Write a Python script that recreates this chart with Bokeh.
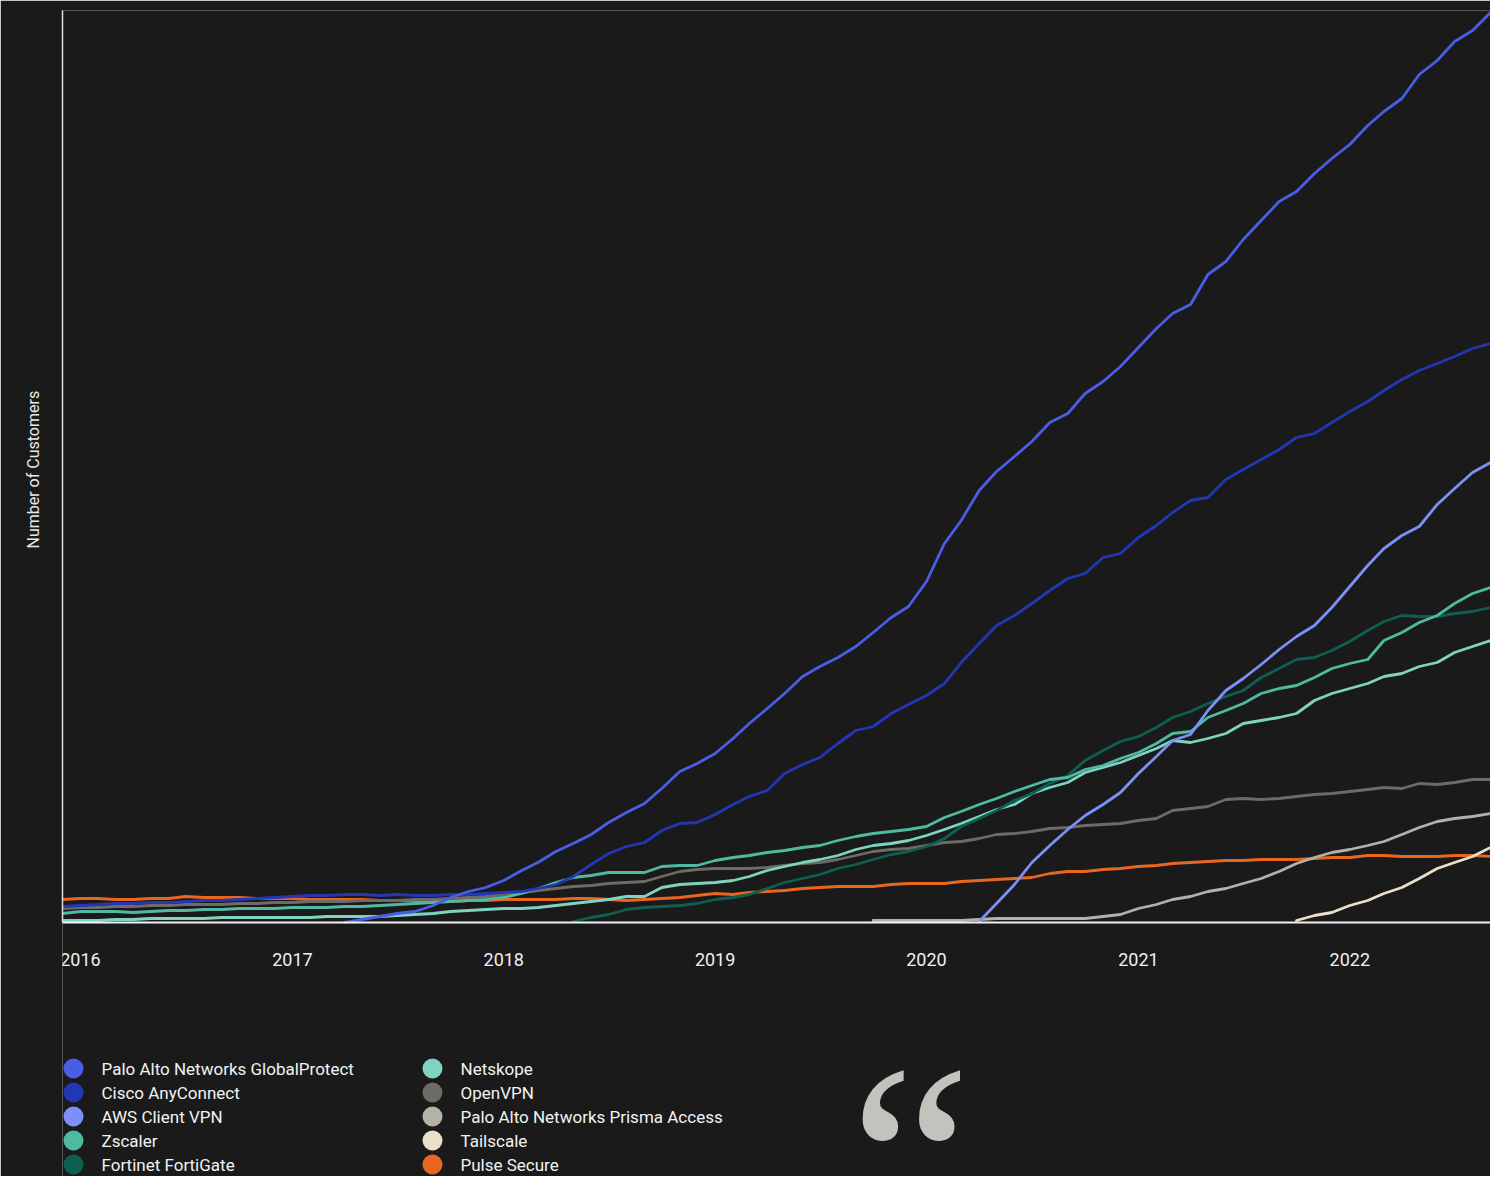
import numpy as np
import pandas as pd
from bokeh.plotting import figure
from bokeh.models import Range1d, FixedTicker, DatetimeTickFormatter, Label, Title
from bokeh.core.properties import value
from bokeh.embed import file_html
from bokeh.resources import INLINE

N = np.nan

# ---------------- data (monthly, Dec 2015 .. Sep 2022) ----------------
months = pd.date_range("2015-12-01", periods=82, freq="MS")
years = ["2016", "2017", "2018", "2019", "2020", "2021", "2022"]

names = ["Palo Alto Networks GlobalProtect", "Cisco AnyConnect", "AWS Client VPN",
         "Zscaler", "Fortinet FortiGate", "Netskope", "OpenVPN",
         "Palo Alto Networks Prisma Access", "Tailscale", "Pulse Secure"]
colors = ["#4a5de6", "#2337b5", "#7d90f7", "#4fb9a1", "#0d5f52",
          "#7fd4c1", "#6e6a65", "#b4b1a9", "#ebdfca", "#e9661f"]

globalprotect = [N] * 16 + [
    0, 3, 6, 9, 11, 17, 25, 31, 35, 42, 52, 60, 71, 79, 88, 100, 110, 119, 134, 151,
    159, 169, 184, 199, 214, 229, 246, 256, 265, 276, 290, 305, 316,
    341, 379, 402, 432, 451, 466, 481, 500, 509, 529, 541, 556, 575, 594, 609, 618,
    648, 661, 683, 702, 721, 731, 749, 764, 778, 797, 811, 824, 848, 862, 881, 892, 910]
cisco = [16, 17, 18, 19, 19, 20, 20, 21, 22, 22, 23, 24, 25, 26, 27, 27, 28, 28, 27, 28,
         27, 27, 28, 28, 29, 30, 31, 34, 38, 46, 58, 69, 76, 80, 92, 99, 100, 108, 118, 126,
         132, 149, 158, 165, 179, 192, 196, 209, 218, 227, 239, 260, 279, 297, 307, 319, 332, 344, 349, 365,
         369, 385, 397, 410, 422, 425, 443, 453, 463, 473, 485, 489, 500, 511, 521, 532, 543, 552, 559, 566,
         574, 579]
aws = [N] * 52 + [1, 19, 38, 60, 77, 93, 107, 118, 130, 149, 166, 182, 188, 212, 232, 244, 258, 273,
                  286, 297, 315, 336, 357, 374, 387, 396, 418, 434, 450, 460]
zscaler = [9, 11, 11, 11, 10, 11, 12, 12, 13, 13, 14, 14, 14, 15, 15, 15, 16, 16, 17, 18,
           19, 20, 21, 22, 23, 25, 29, 34, 40, 45, 47, 50, 50, 50, 56, 57, 57, 62, 65, 67,
           70, 72, 75, 77, 82, 86, 89, 91, 93, 96, 105, 111, 118, 124, 131, 137, 143, 145, 153, 157,
           164, 170, 179, 189, 191, 205, 212, 219, 229, 234, 237, 245, 254, 259, 263, 282, 290, 300, 307, 319,
           329, 335]
fortinet = [N] * 29 + [1, 5, 8, 13, 15, 16, 17, 19, 23, 25, 28,
                       34, 40, 44, 48, 54, 58, 63, 68, 71, 76, 84, 96, 104, 112, 122, 129, 139, 147, 162, 172,
                       181, 186, 195, 205, 211, 219, 226, 232, 245, 254, 263, 265, 272, 281, 292, 301, 307, 306,
                       306, 309, 311, 315]
netskope = [2, 2, 2, 3, 3, 4, 4, 4, 4, 5, 5, 5, 5, 5, 5, 6, 6, 6, 6, 7,
            8, 9, 11, 12, 13, 14, 14, 15, 17, 19, 21, 23, 26, 26, 35, 38, 39, 40, 42, 46,
            52, 56, 60, 63, 67, 73, 77, 79, 82, 87, 93, 99, 106, 113, 118, 129, 135, 140, 150, 155,
            160, 167, 174, 182, 180, 184, 189, 199, 202, 205, 209, 222, 229, 234, 239, 246, 249, 256, 260, 270,
            276, 282]
openvpn = [14, 15, 15, 16, 16, 17, 17, 18, 18, 18, 19, 19, 20, 20, 21, 21, 21, 22, 22, 22,
           23, 23, 24, 25, 26, 28, 30, 32, 34, 36, 37, 39, 40, 41, 46, 51, 53, 54, 54, 54,
           55, 57, 59, 60, 63, 67, 71, 73, 74, 77, 80, 81, 84, 88, 89, 91, 94, 95, 97, 98,
           99, 102, 104, 112, 114, 116, 123, 124, 123, 124, 126, 128, 129, 131, 133, 135, 134, 139, 138, 140,
           143, 143]
prisma = [N] * 46 + [2, 2, 2, 2, 2, 2, 3, 4, 4, 4, 4, 4, 4, 6, 8, 14, 18, 23, 26, 31,
                     34, 39, 44, 51, 59, 65, 70, 73, 77, 81, 88, 95, 101, 104, 106, 109]
tailscale = [N] * 70 + [2, 7, 10, 17, 22, 29, 35, 44, 54, 60, 66, 75]
pulse = [23, 24, 24, 23, 23, 24, 24, 26, 25, 25, 25, 24, 24, 24, 23, 23, 23, 23, 22, 22,
         22, 21, 21, 22, 22, 23, 23, 23, 23, 24, 24, 23, 22, 23, 24, 25, 27, 29, 28, 30,
         31, 32, 34, 35, 36, 36, 36, 38, 39, 39, 39, 41, 42, 43, 44, 45, 49, 51, 51, 53,
         54, 56, 57, 59, 60, 61, 62, 62, 63, 63, 63, 64, 65, 65, 67, 67, 66, 66, 66, 67,
         67, 66]

series = [globalprotect, cisco, aws, zscaler, fortinet, netskope, openvpn, prisma, tailscale, pulse]
y_max = 912          # top of the value axis
y_floor = -254       # room below the chart for the legend and the quote

BG = "#1a1a1a"
FONT = "Roboto"
W, H = 1490, 1176
LEFT, TOP = 62, 10
FW, FH = W - LEFT, H - TOP   # frame size in px

p = figure(width=W, height=H, x_axis_type="datetime",
           output_backend="svg", toolbar_location=None,
           x_range=Range1d(months[0], months[-1]), y_range=Range1d(y_floor, y_max),
           min_border_left=LEFT, min_border_right=0, min_border_top=TOP, min_border_bottom=0)
p.background_fill_color = BG
p.border_fill_color = BG
p.outline_line_color = None
p.grid.visible = False

# pixel ranges for the legend block placed under the chart
p.extra_x_ranges = {"px": Range1d(0, FW)}
p.extra_y_ranges = {"px": Range1d(FH, 0)}

for vals, col in reversed(list(zip(series, colors))):
    p.line(months, np.array(vals, dtype=float), line_color=col, line_width=2.8,
           line_join="round", line_cap="round")

# ---- legend (two columns of five) ----
col_dot = [11, 370]
col_txt = [39, 398]
row_y0, row_dy = 1058, 24
lx_dot = [col_dot[i // 5] for i in range(len(names))]
lx_txt = [col_txt[i // 5] for i in range(len(names))]
ly = [row_y0 + (i % 5) * row_dy for i in range(len(names))]
p.scatter(lx_dot, ly, marker="circle", size=20, fill_color=colors, line_color=None,
          x_range_name="px", y_range_name="px")
p.text(lx_txt, ly, text=names, text_font=value(FONT), text_font_size="17px",
       text_color="#f2f2f2", text_baseline="middle", text_align="left",
       x_range_name="px", y_range_name="px")

# x axis drawn at value 0 inside the frame
p.xaxis.fixed_location = 0
p.xaxis.ticker = FixedTicker(ticks=[pd.Timestamp(f"{y}-01-01").value / 1e6 for y in years])
p.xaxis.formatter = DatetimeTickFormatter(years="%Y", months="%Y", days="%Y", hours="%Y")
p.xaxis.axis_line_color = "#f2f2f2"
p.xaxis.axis_line_width = 2
p.xaxis.major_tick_line_color = None
p.xaxis.minor_tick_line_color = None
p.xaxis.major_label_text_color = "#f0f0f0"
p.xaxis.major_label_text_font = FONT
p.xaxis.major_label_text_font_size = "18px"
p.xaxis.major_label_standoff = 24

p.yaxis.bounds = (0, y_max)
p.yaxis.ticker = FixedTicker(ticks=[])
p.yaxis.axis_line_color = "#dedede"
p.yaxis.axis_line_width = 1.5
p.yaxis.major_tick_line_color = None
p.yaxis.minor_tick_line_color = None

ytitle = Title(text="Number of Customers", align="left", vertical_align="bottom",
               offset=628, standoff=40, text_font=FONT, text_font_style="normal",
               text_font_size="16px", text_color="#e8e8e8")
p.add_layout(ytitle, "left")

quote = Label(x=787, y=168, x_units="screen", y_units="screen", text="\u201c",
              text_font="Liberation Serif", text_font_size="275px", text_color="#c4c2bc",
              text_baseline="top", text_align="left")
p.add_layout(quote)

open("out.html", "w").write(file_html(p, INLINE))
